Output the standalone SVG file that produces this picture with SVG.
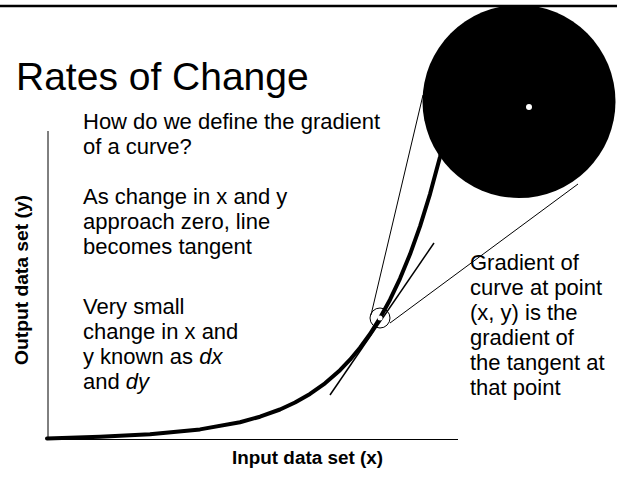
<svg xmlns="http://www.w3.org/2000/svg" width="617" height="486" viewBox="0 0 617 486">
<style>
.t{font-family:"Liberation Sans",Arial,sans-serif;font-size:22px;fill:#000}
.lbl{font-family:"Liberation Sans",Arial,sans-serif;font-size:18px;font-weight:bold;fill:#000}
.thin{stroke:#000;stroke-width:1;fill:none}
</style>
<rect width="617" height="486" fill="#fff"/>
<line x1="0" y1="6" x2="617" y2="6" stroke="#000" stroke-width="2.5"/>
<g id="title"><text x="16" y="90" font-family="'Liberation Sans',Arial,sans-serif" font-size="39">Rates of Change</text></g>
<g id="axes">
<line class="thin" x1="48" y1="131" x2="48" y2="440"/>
<line class="thin" x1="47" y1="439.5" x2="458" y2="439.5"/>
<text class="lbl" x="232" y="464" textLength="151" lengthAdjust="spacingAndGlyphs">Input data set (x)</text>
<text class="lbl" transform="translate(28,365) rotate(-90)" textLength="170" lengthAdjust="spacingAndGlyphs">Output data set (y)</text>
</g>
<g id="connectors">
<line class="thin" x1="423" y1="95" x2="371" y2="315"/>
<line class="thin" x1="390" y1="323" x2="578" y2="184"/>
<line x1="330" y1="395" x2="434" y2="243" stroke="#000" stroke-width="1.5"/>
</g>
<g id="curve">
<polyline fill="none" stroke="#000" stroke-width="4" stroke-linejoin="round" stroke-linecap="round" points="47,438.5 100,436.7 150,434.3 200,429.4 240,422.2 260,416.7 280,409.5 295,402.5 310,393.9 325,383.3 340,370.2 350,359.7 360,347.7 370,334 380,318 390,299.7 400,278.6 410,254.3 420,226.3 430,194.1 440,157 446,132"/>
</g>
<g id="magnifier">
<circle cx="519" cy="101.5" r="96.5" fill="#000"/>
<circle cx="529" cy="107" r="3" fill="#fff"/>
<circle class="thin" cx="380" cy="318" r="10"/>
<circle cx="380" cy="318" r="2.5" fill="#fff"/>
</g>
<g id="text-question">
<text class="t" x="83" y="129">How do we define the gradient</text>
<text class="t" x="83" y="154">of a curve?</text>
</g>
<g id="text-approach">
<text class="t" x="83" y="204">As change in x and y</text>
<text class="t" x="83" y="229">approach zero, line</text>
<text class="t" x="83" y="254">becomes tangent</text>
</g>
<g id="text-small">
<text class="t" x="83" y="314">Very small</text>
<text class="t" x="83" y="339">change in x and</text>
<text class="t" x="83" y="364">y known as <tspan font-style="italic">dx</tspan></text>
<text class="t" x="83" y="389">and <tspan font-style="italic">dy</tspan></text>
</g>
<g id="text-gradient">
<text class="t" x="470" y="270">Gradient of</text>
<text class="t" x="470" y="295">curve at point</text>
<text class="t" x="470" y="320">(x, y) is the</text>
<text class="t" x="470" y="345">gradient of</text>
<text class="t" x="470" y="370">the tangent at</text>
<text class="t" x="470" y="395">that point</text>
</g>
</svg>
